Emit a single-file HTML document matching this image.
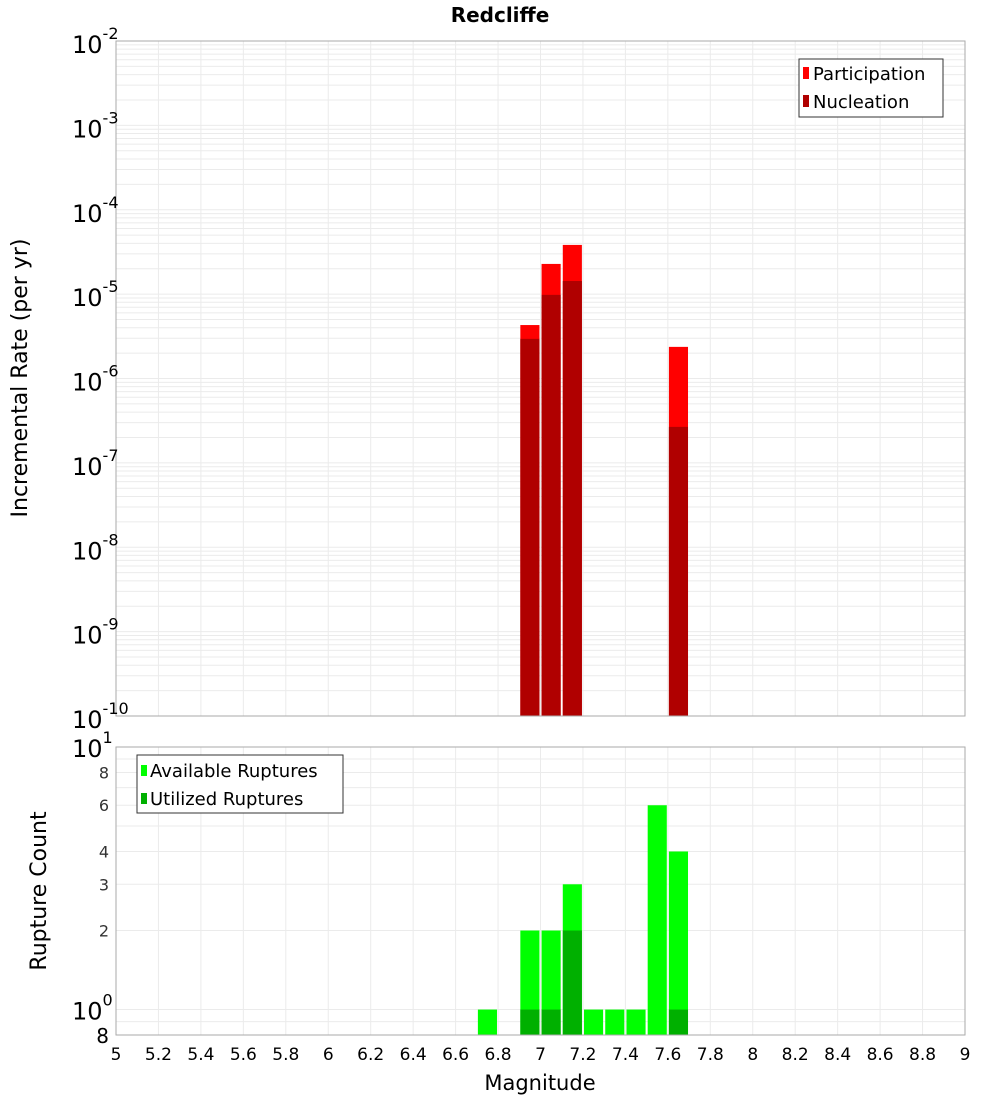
<!DOCTYPE html>
<html><head><meta charset="utf-8"><style>
body{margin:0;background:#fff;font-family:"DejaVu Sans","Liberation Sans",sans-serif}
</style></head><body>
<svg id="c" width="1000" height="1100" xmlns="http://www.w3.org/2000/svg" font-family="DejaVu Sans, Liberation Sans, sans-serif"></svg>
<script>
const bins=[6.75,6.95,7.05,7.15,7.25,7.35,7.45,7.55,7.65];
const partMags=[6.95,7.05,7.15,7.65];
const partVals=[4.3e-6,2.28e-5,3.83e-5,2.37e-6];
const nuclVals=[2.95e-6,9.8e-6,1.43e-5,2.67e-7];
const availVals=[1,2,2,3,1,1,1,6,4];
const utilMags=[6.95,7.05,7.15,7.65];
const utilVals=[1,1,2,1];
const xTicks=[5,5.2,5.4,5.6,5.8,6,6.2,6.4,6.6,6.8,7,7.2,7.4,7.6,7.8,8,8.2,8.4,8.6,8.8,9];
const topExps=[-2,-3,-4,-5,-6,-7,-8,-9,-10];
const botTicks=[8,10,2,3,4,6,8];

const svg=document.getElementById('c');const NS='http://www.w3.org/2000/svg';
function el(t,a,p){const e=document.createElementNS(NS,t);for(const k in a)e.setAttribute(k,a[k]);(p||svg).appendChild(e);return e;}
const X0=116,X1=965;
const xs=m=>X0+(m-5)/4*(X1-X0);
const T0=41,T1=716;
const ty=v=>T0+(-2-Math.log10(v))/8*(T1-T0);
const B0=747,B1=1035;
const by=v=>B1-(Math.log10(v)-Math.log10(0.8))/(1-Math.log10(0.8))*(B1-B0);

// top grid
const tg=el('g',{});

for(let e=-10;e<-2;e++)for(let k=1;k<10;k++){const y=ty(k*Math.pow(10,e));el('line',{x1:X0,x2:X1,y1:y,y2:y,stroke:'#ebebeb','stroke-width':1},tg);}
xTicks.forEach(m=>{const x=xs(m);el('line',{x1:x,x2:x,y1:T0,y2:T1,stroke:'#ebebeb'},tg);el('line',{x1:x,x2:x,y1:B0,y2:B1,stroke:'#ebebeb'},tg);});
for(let v=1;v<=10;v++){const y=by(v);el('line',{x1:X0,x2:X1,y1:y,y2:y,stroke:'#ebebeb'},tg);}
{const y=by(0.9);el('line',{x1:X0,x2:X1,y1:y,y2:y,stroke:'#ebebeb'},tg);}

// top bars
const hw=0.045;
partMags.forEach((m,i)=>{
 const r=el('rect',{x:xs(m-hw),width:xs(m+hw)-xs(m-hw),y:ty(partVals[i]),height:T1-ty(partVals[i]),fill:'#ff0000'});
 
 const n=el('rect',{x:xs(m-hw),width:xs(m+hw)-xs(m-hw),y:ty(nuclVals[i]),height:T1-ty(nuclVals[i]),fill:'#b00000'});
 
});
bins.forEach((m,i)=>{
 const r=el('rect',{x:xs(m-hw),width:xs(m+hw)-xs(m-hw),y:by(availVals[i]),height:B1-by(availVals[i]),fill:'#00ff00'});
 
});
utilMags.forEach((m,i)=>{
 const r=el('rect',{x:xs(m-hw),width:xs(m+hw)-xs(m-hw),y:by(utilVals[i]),height:B1-by(utilVals[i]),fill:'#00b000'});
 
});
el('rect',{x:X0,y:T0,width:X1-X0,height:T1-T0,fill:'none',stroke:'#aaa'});
el('rect',{x:X0,y:B0,width:X1-X0,height:B1-B0,fill:'none',stroke:'#aaa'});

// top y labels
topExps.forEach(e=>{const y=ty(Math.pow(10,e));
 const t=el('text',{x:72,y:y+12,'font-size':24,fill:'#000'});
 
 t.textContent='10';const s=el('tspan',{dy:-14,'font-size':16},t);s.textContent=String(e);});
// bottom y labels
[[10,'1'],[1,'0']].forEach(([v,e])=>{const y=by(v);const t=el('text',{x:72,y:y+10,'font-size':24});
 
 t.textContent='10';const s=el('tspan',{dy:-14,'font-size':16},t);s.textContent=e;});
[2,3,4,6,8].forEach(v=>{const t=el('text',{x:109,y:by(v)+6,'font-size':16,'text-anchor':'end',fill:'#333'});
 t.textContent=v;});
{const t=el('text',{x:109,y:B1+8,'font-size':20,'text-anchor':'end'});t.textContent='8';}
// x labels
xTicks.forEach(m=>{const t=el('text',{x:xs(m),y:1060,'font-size':17,'text-anchor':'middle'});
 t.textContent=String(m);});
</script>
<svg width="1000" height="1100" style="position:absolute;left:0;top:0" font-family="DejaVu Sans, Liberation Sans, sans-serif">
<text x="500" y="22" font-size="20" font-weight="bold" text-anchor="middle">Redcliffe</text>
<text x="540" y="1090" font-size="21" text-anchor="middle">Magnitude</text>
<text transform="translate(27,378) rotate(-90)" font-size="22" text-anchor="middle">Incremental Rate (per yr)</text>
<text transform="translate(46,891) rotate(-90)" font-size="22" text-anchor="middle">Rupture Count</text>
<g>
<rect x="799" y="59" width="144" height="58" fill="#fff" stroke="#333"/>
<rect x="803" y="67" width="6" height="12" fill="#ff0000"/>
<text x="813" y="80" font-size="18">Participation</text>
<rect x="803" y="95" width="6" height="12" fill="#b00000"/>
<text x="813" y="108" font-size="18">Nucleation</text>
</g>
<g>
<rect x="137" y="755" width="206" height="58" fill="#fff" stroke="#333"/>
<rect x="141" y="765" width="6" height="11" fill="#00ff00"/>
<text x="150" y="777" font-size="18">Available Ruptures</text>
<rect x="141" y="793" width="6" height="11" fill="#00b000"/>
<text x="150" y="805" font-size="18">Utilized Ruptures</text>
</g>
</svg>
</body></html>
